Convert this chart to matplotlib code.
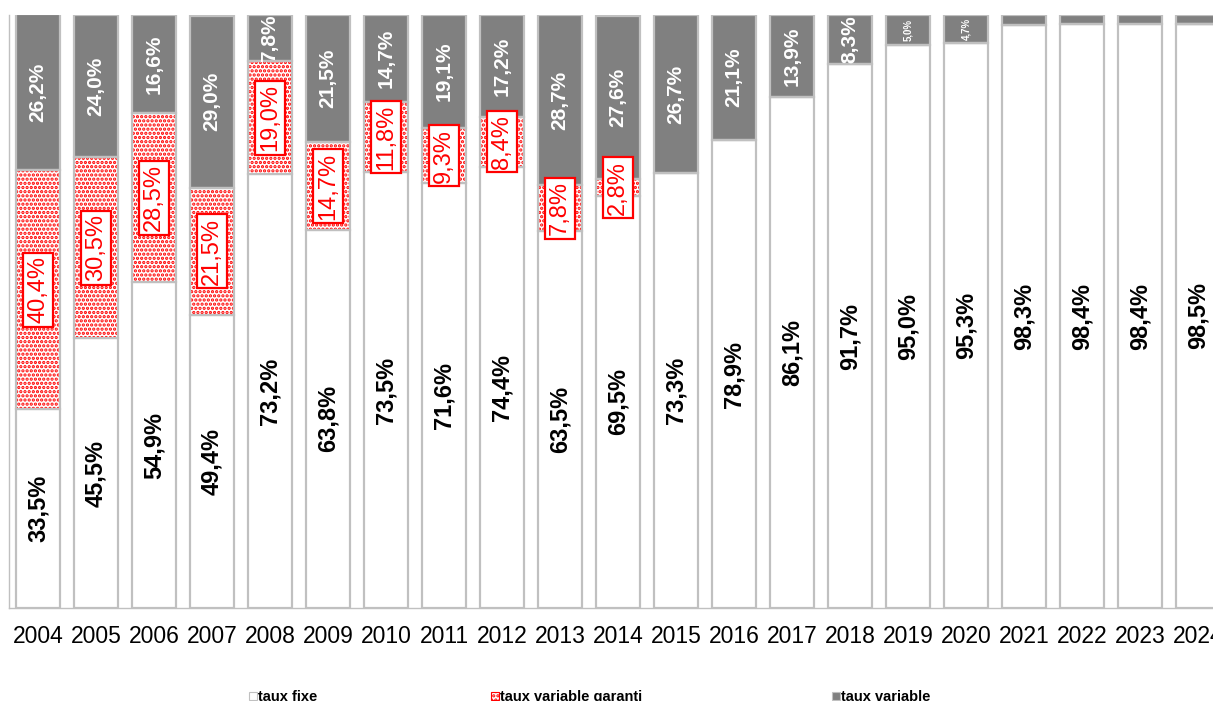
import matplotlib
matplotlib.use('Agg')
import matplotlib.pyplot as plt
from matplotlib.patches import Rectangle
import numpy as np

plt.rcParams['font.family'] = ['Liberation Sans', 'DejaVu Sans']
plt.rcParams['hatch.linewidth'] = 1.6

years = [str(y) for y in range(2004, 2025)]
taux_fixe = [33.5, 45.5, 54.9, 49.4, 73.2, 63.8, 73.5, 71.6, 74.4, 63.5, 69.5,
             73.3, 78.9, 86.1, 91.7, 95.0, 95.3, 98.3, 98.4, 98.4, 98.5]
taux_garanti = [40.4, 30.5, 28.5, 21.5, 19.0, 14.7, 11.8, 9.3, 8.4, 7.8, 2.8,
                0, 0, 0, 0, 0, 0, 0, 0, 0, 0]
taux_variable = [26.2, 24.0, 16.6, 29.0, 7.8, 21.5, 14.7, 19.1, 17.2, 28.7, 27.6,
                 26.7, 21.1, 13.9, 8.3, 5.0, 4.7, 1.7, 1.6, 1.6, 1.5]

EDGE = '#c0c0c0'
GREY = '#808080'
RED = '#ff0000'


def fmt(v):
    return f"{v:.1f}".replace('.', ',') + '%'


W, H = 1213, 701
fig = plt.figure(figsize=(W / 100, H / 100), dpi=100)
# axes runs past the right edge like the original (2024 is cut off)
ax = fig.add_axes([9 / W, (H - 608) / H, 1218 / W, 593 / H])

x = np.arange(len(years))
fixe = np.array(taux_fixe)
gar = np.array(taux_garanti)
var = np.array(taux_variable)
bw = 0.76

ax.bar(x, fixe, bw, color='white', edgecolor=EDGE, linewidth=1.6, zorder=2)
# hatch in red, outline drawn afterwards in grey
ax.bar(x, gar, bw, bottom=fixe, color='white', edgecolor=RED, hatch='....',
       linewidth=0, zorder=2)
ax.bar(x, gar, bw, bottom=fixe, fill=False, edgecolor=EDGE, linewidth=1.6, zorder=3)
ax.bar(x, var, bw, bottom=fixe + gar, color=GREY, edgecolor=EDGE, linewidth=1.6, zorder=2)

for i in range(len(years)):
    ax.text(x[i], fixe[i] / 2, fmt(fixe[i]), rotation=90, ha='center', va='center',
            fontsize=17, fontweight='bold', color='black', zorder=5)
    if gar[i] > 0:
        ax.text(x[i], fixe[i] + gar[i] / 2, fmt(gar[i]), rotation=90, ha='center',
                va='center', fontsize=17, color=RED, zorder=5,
                bbox=dict(boxstyle='square,pad=0.15', fc='white', ec=RED, lw=1.6))
    if var[i] >= 4:
        fs = 15 if var[i] > 6 else 7
        ax.text(x[i], fixe[i] + gar[i] + var[i] / 2, fmt(var[i]), rotation=90,
                ha='center', va='center', fontsize=fs, fontweight='bold',
                color='white', zorder=5, clip_on=False)

ax.set_xlim(-0.5, 20.5)
ax.set_ylim(0, 100)
ax.set_xticks(x)
ax.set_xticklabels(years, fontsize=16.5)
ax.tick_params(axis='x', length=0, pad=12)
ax.set_yticks([])
for s in ['top', 'right']:
    ax.spines[s].set_visible(False)
for s in ['left', 'bottom']:
    ax.spines[s].set_color(EDGE)
    ax.spines[s].set_linewidth(1.0)

# legend along the bottom edge
legend_items = [('taux fixe', 'white', None, 249),
                ('taux variable garanti', 'white', '....', 491),
                ('taux variable', GREY, None, 832)]
for label, fc, hatch, px in legend_items:
    sq = Rectangle((px / W, (H - 700) / H), 8 / W, 8 / H, transform=fig.transFigure,
                   facecolor=fc, edgecolor=RED if hatch else EDGE, hatch=hatch,
                   linewidth=0.8)
    fig.patches.append(sq)
    fig.text((px + 9) / W, (H - 697) / H, label, fontsize=10.5, fontweight='bold',
             va='center', ha='left')

fig.savefig('out.png', dpi=100)
